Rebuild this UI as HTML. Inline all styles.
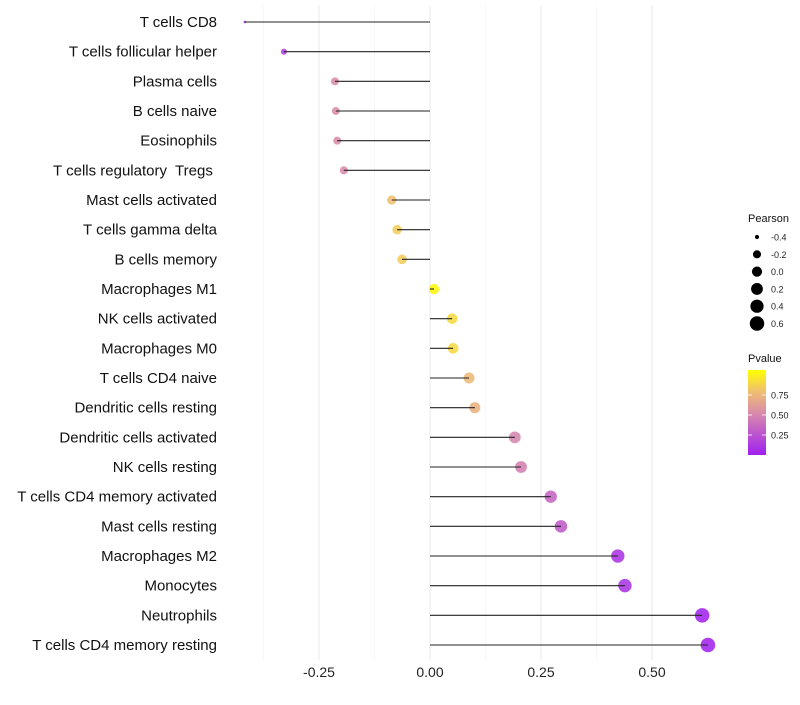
<!DOCTYPE html>
<html><head><meta charset="utf-8"><style>
body{margin:0;background:#fff;font-family:"Liberation Sans",sans-serif}
</style></head><body>
<svg id="c" width="800" height="700" xmlns="http://www.w3.org/2000/svg" font-family="Liberation Sans, sans-serif"></svg>
<script>
const categories=["T cells CD8","T cells follicular helper","Plasma cells","B cells naive","Eosinophils","T cells regulatory  Tregs ","Mast cells activated","T cells gamma delta","B cells memory","Macrophages M1","NK cells activated","Macrophages M0","T cells CD4 naive","Dendritic cells resting","Dendritic cells activated","NK cells resting","T cells CD4 memory activated","Mast cells resting","Macrophages M2","Monocytes","Neutrophils","T cells CD4 memory resting"];
const pearson=[-0.417,-0.329,-0.214,-0.212,-0.209,-0.194,-0.086,-0.074,-0.063,0.009,0.050,0.052,0.088,0.101,0.191,0.205,0.272,0.295,0.423,0.439,0.613,0.626];
const pvalue=[0.05,0.15,0.5,0.5,0.5,0.5,0.75,0.8,0.8,0.97,0.85,0.85,0.72,0.68,0.47,0.45,0.32,0.27,0.1,0.1,0.02,0.02];
const xTicks=[-0.25,0,0.25,0.5];
const xTickLabels=["-0.25","0.00","0.25","0.50"];
const sizeLegend=[-0.4,-0.2,0.0,0.2,0.4,0.6];
const sizeLegendLabels=["-0.4","-0.2","0.0","0.2","0.4","0.6"];
const pTicks=[0.25,0.5,0.75];
const pTickLabels=["0.25","0.50","0.75"];

const svg=document.getElementById('c');
const NS='http://www.w3.org/2000/svg';
function mk(t,a,p){const e=document.createElementNS(NS,t);for(const k in a)e.setAttribute(k,a[k]);(p||svg).appendChild(e);return e;}
const xS=v=>430+v*444;
const yS=i=>22+i*(623/21);
const rS=v=>1.3+6*Math.sqrt(Math.max(0,(v+0.417)/1.043));
const stops=[[0,[160,32,240]],[0.5,[217,140,170]],[0.75,[240,192,112]],[1,[255,255,0]]];
function col(p){for(let i=1;i<stops.length;i++){if(p<=stops[i][0]){const a=stops[i-1],b=stops[i],t=(p-a[0])/(b[0]-a[0]);const c=a[1].map((v,j)=>Math.round(v+(b[1][j]-v)*t));return`rgb(${c})`;}}return'rgb(255,255,0)';}
const pY=p=>455-p*80;

[-0.375,-0.125,0.125,0.375].forEach(v=>{const g=mk('line',{x1:xS(v),x2:xS(v),y1:5,y2:660,stroke:'#f2f2f2','stroke-width':0.6});

});
xTicks.forEach((v,i)=>{const g=mk('line',{x1:xS(v),x2:xS(v),y1:5,y2:660,stroke:'#ebebeb','stroke-width':1.1});


const t=mk('text',{x:xS(v),y:677,'text-anchor':'middle','font-size':14,fill:'#222'});t.textContent=xTickLabels[i];

});

categories.forEach((c,i)=>{
 const y=yS(i);
 const t=mk('text',{x:217,y:y+5,'text-anchor':'end','font-size':15,fill:'#111'});t.textContent=c;
 t.setAttribute('style','white-space:pre');
 
 
 const d=mk('circle',{cx:xS(pearson[i]),cy:y,r:rS(pearson[i]),fill:col(pvalue[i]),'fill-opacity':0.88});
 
 
 const l=mk('line',{x1:xS(0),x2:xS(pearson[i]),y1:y,y2:y,stroke:'#222','stroke-width':1.1});
 
 
});

let lt=mk('text',{x:748,y:222,'font-size':11,fill:'#111'});lt.textContent='Pearson';


sizeLegend.forEach((v,i)=>{const y=237+i*17.3;
 const c=mk('circle',{cx:757,cy:y,r:rS(v),fill:'#000'});
 
 
 const t=mk('text',{x:771,y:y+3.5,'font-size':9,fill:'#222'});t.textContent=sizeLegendLabels[i];
 
 });

lt=mk('text',{x:748,y:362,'font-size':11,fill:'#111'});lt.textContent='Pvalue';


const defs=mk('defs',{});const gr=mk('linearGradient',{id:'pg',x1:0,y1:1,x2:0,y2:0},defs);
stops.forEach(s=>mk('stop',{offset:s[0],'stop-color':`rgb(${s[1]})`},gr));
const bar=mk('rect',{x:748,y:370,width:18,height:85,fill:'url(#pg)'});


pTicks.forEach((p,i)=>{const y=pY(p);
 mk('line',{x1:748,x2:752,y1:y,y2:y,stroke:'#fff','stroke-width':0.8});
 mk('line',{x1:762,x2:766,y1:y,y2:y,stroke:'#fff','stroke-width':0.8});
 const t=mk('text',{x:771,y:y+3.5,'font-size':9,fill:'#222'});t.textContent=pTickLabels[i];
 
 });
</script>
</body></html>
